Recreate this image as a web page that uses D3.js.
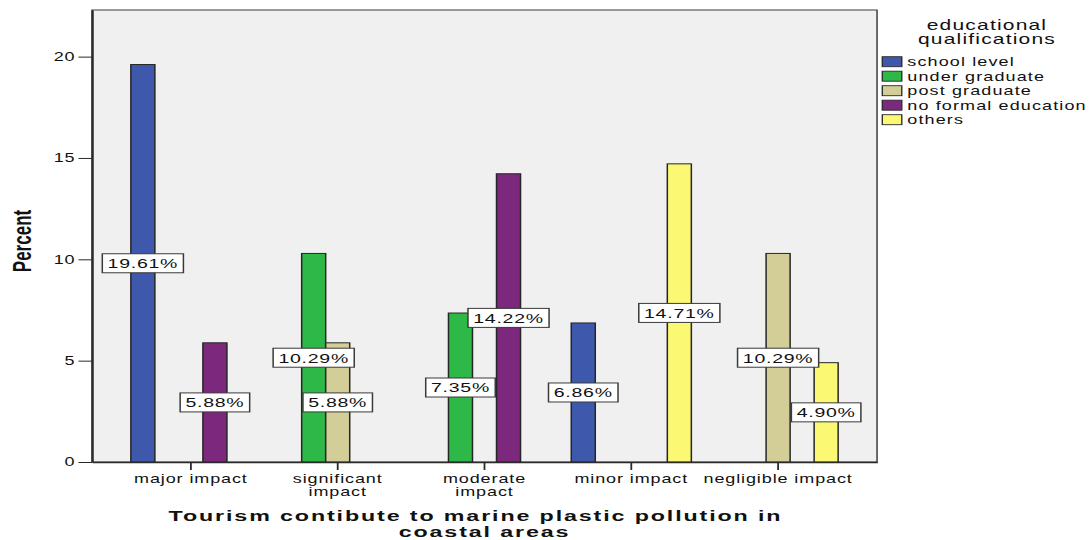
<!DOCTYPE html>
<html>
<head>
<meta charset="utf-8">
<script src="https://cdn.jsdelivr.net/npm/d3@7"></script>
<style>
  body { margin: 0; background: #fff; }
  svg { display: block; }
  text { font-family: "Liberation Sans", Arial, Helvetica, sans-serif; fill: #111; }
</style>
</head>
<body>
<svg id="chart" width="1092" height="540"></svg>
<script>
// ---- data ----
const categories = ["major impact", "significant impact", "moderate impact", "minor impact", "negligible impact"];
const tickLabels = ["major impact", "significant\nimpact", "moderate\nimpact", "minor impact", "negligible impact"];
const seriesNames = ["school level", "under graduate", "post graduate", "no formal education", "others"];
const seriesColors = ["#3e58ac", "#2eb848", "#d3ce97", "#7c287d", "#fbf873"];

// percent per category, null where the group has no bar
const schoolLevel       = [19.61, null, null, 6.86, null];
const underGraduate     = [null, 10.29, 7.35, null, null];
const postGraduate      = [null, 5.88, null, null, 10.29];
const noFormalEducation = [5.88, null, 14.22, null, null];
const others            = [null, null, null, 14.71, 4.90];

const yTicks = [0, 5, 10, 15, 20];
const yMax = 22.3;
const yTitle = "Percent";
const legendTitle = ["educational", "qualifications"];
const xTitle = ["Tourism contibute to marine plastic pollution in", "coastal areas"];

const seriesValues = [schoolLevel, underGraduate, postGraduate, noFormalEducation, others];

// ---- layout (drawn in a narrow frame, stretched horizontally) ----
const stretchX = 1.5;
const plot = { left: 61.3, right: 584.7, top: 10, bottom: 462 };

const svg = d3.select("#chart");
const g = svg.append("g").attr("transform", `scale(${stretchX},1)`);

const x0 = d3.scaleBand()
  .domain(categories)
  .range([plot.left, plot.right])
  .paddingInner(0.182)
  .paddingOuter(0.265);

const x1 = d3.scaleBand()
  .domain(seriesNames)
  .range([0, x0.bandwidth()])
  .padding(0);

const y = d3.scaleLinear().domain([0, yMax]).range([plot.bottom, plot.top]);

// plot background and frame
g.append("rect")
  .attr("x", plot.left).attr("y", plot.top)
  .attr("width", plot.right - plot.left).attr("height", plot.bottom - plot.top)
  .attr("fill", "#f0f0f0")
  .attr("stroke", "#3c3c3c").attr("stroke-width", 1);

// bars
const bars = [];
seriesNames.forEach((s, si) => {
  seriesValues[si].forEach((v, ci) => {
    if (v != null) bars.push({ series: s, si, category: categories[ci], value: v });
  });
});

g.append("g").selectAll("rect")
  .data(bars)
  .join("rect")
  .attr("x", d => x0(d.category) + x1(d.series))
  .attr("width", x1.bandwidth())
  .attr("y", d => y(d.value))
  .attr("height", d => y(0) - y(d.value))
  .attr("fill", d => seriesColors[d.si])
  .attr("stroke", "#262626")
  .attr("stroke-width", 1);

// axes
const yAxis = g.append("g")
  .attr("transform", `translate(${plot.left},0)`)
  .call(d3.axisLeft(y).tickValues(yTicks).tickSize(9).tickSizeOuter(0).tickPadding(2).tickFormat(d3.format("d")));
yAxis.select(".domain").attr("stroke", "#2a2a2a").attr("stroke-width", 1.4);
yAxis.selectAll(".tick line").attr("stroke", "#2a2a2a").attr("stroke-width", 1);
yAxis.selectAll(".tick text")
  .attr("font-size", 12).attr("letter-spacing", 0.6)
  .attr("fill", "#111").style("font-family", "'Liberation Sans', Arial, sans-serif");

const xAxis = g.append("g")
  .attr("transform", `translate(0,${plot.bottom})`)
  .call(d3.axisBottom(x0).tickSize(8).tickSizeOuter(0).tickPadding(4).tickFormat((d, i) => tickLabels[i]));
xAxis.select(".domain").attr("stroke", "#2a2a2a").attr("stroke-width", 1.4);
xAxis.selectAll(".tick line").attr("stroke", "#2a2a2a").attr("stroke-width", 1.2);
xAxis.selectAll(".tick text").each(function(d, i) {
  const t = d3.select(this);
  const lines = tickLabels[i].split("\n");
  t.text(null)
    .attr("font-size", 12).attr("letter-spacing", 0.6)
    .attr("fill", "#111").style("font-family", "'Liberation Sans', Arial, sans-serif")
    .attr("y", 0).attr("dy", null);
  lines.forEach((ln, k) => {
    t.append("tspan").attr("x", 0).attr("y", 21 + k * 13).text(ln);
  });
});

// value labels, centred on each bar at half its height
const labels = g.append("g").selectAll("g")
  .data(bars)
  .join("g")
  .attr("transform", d => `translate(${x0(d.category) + x1(d.series) + x1.bandwidth() / 2},${y(d.value / 2)})`);

labels.each(function(d) {
  const lg = d3.select(this);
  const rect = lg.append("rect");
  const txt = lg.append("text")
    .attr("text-anchor", "middle")
    .attr("dy", "0.37em")
    .attr("font-size", 13)
    .attr("letter-spacing", 0.5)
    .text(d3.format(".2f")(d.value) + "%");
  const w = txt.node().getComputedTextLength() + 7;
  rect.attr("x", -w / 2).attr("y", -9.5).attr("width", w).attr("height", 19)
    .attr("fill", "#fff").attr("stroke", "#3a3a3a").attr("stroke-width", 1);
});

// y axis title
g.append("text")
  .attr("transform", `translate(20.5,${(plot.top + plot.bottom) / 2 + 5}) rotate(-90)`)
  .attr("text-anchor", "middle")
  .attr("font-size", 17)
  .attr("font-weight", "bold")
  .text(yTitle);

// x axis title
const xMid = (plot.left + plot.right) / 2;
g.append("g").selectAll("text")
  .data(xTitle)
  .join("text")
  .attr("x", (d, i) => i === 0 ? xMid - 6 : xMid)
  .attr("y", (d, i) => 521 + i * 16)
  .attr("text-anchor", "middle")
  .attr("font-size", 15.5)
  .attr("font-weight", "bold")
  .attr("letter-spacing", 1.25)
  .text(d => d);

// legend
const legendX = 588.2;
const legendMid = 658;
g.append("g").selectAll("text")
  .data(legendTitle)
  .join("text")
  .attr("x", legendMid)
  .attr("y", (d, i) => 30 + i * 14.5)
  .attr("text-anchor", "middle")
  .attr("font-size", 14)
  .attr("letter-spacing", 0.8)
  .text(d => d);

const items = g.append("g").selectAll("g")
  .data(seriesNames)
  .join("g")
  .attr("transform", (d, i) => `translate(${legendX},${56.7 + i * 14.5})`);
items.append("rect")
  .attr("width", 13).attr("height", 10)
  .attr("fill", (d, i) => seriesColors[i])
  .attr("stroke", "#2a2a2a").attr("stroke-width", 0.9);
items.append("text")
  .attr("x", 16.7).attr("y", 9.6)
  .attr("font-size", 12)
  .attr("letter-spacing", 0.75)
  .text(d => d);
</script>
</body>
</html>
